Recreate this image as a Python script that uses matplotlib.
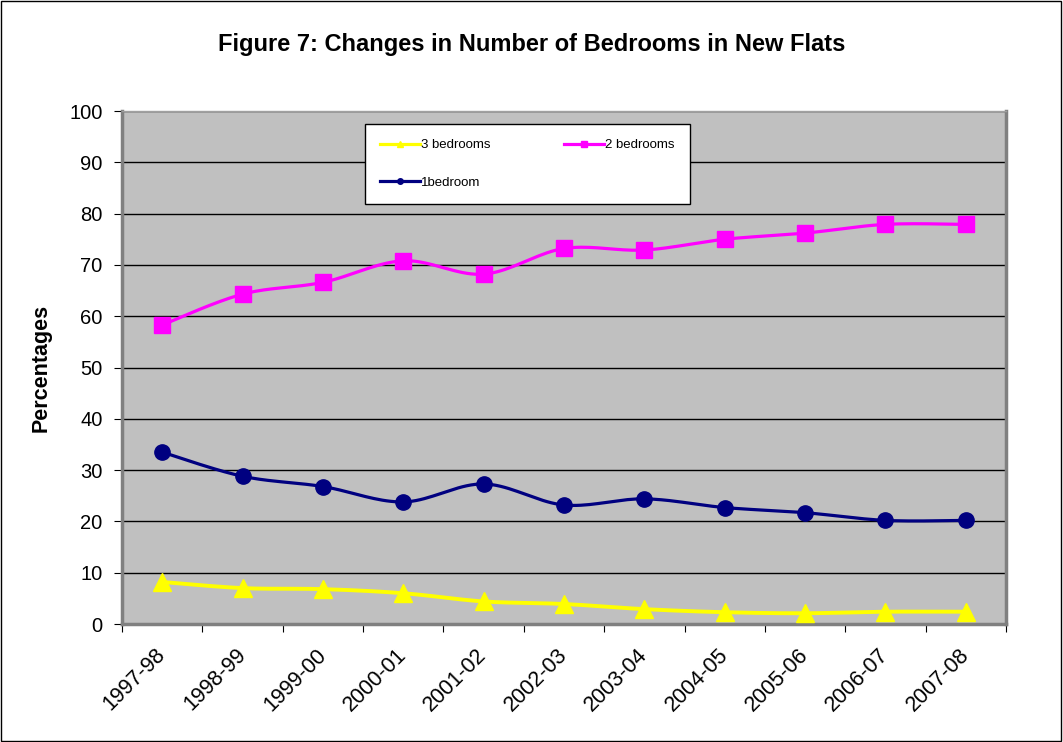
import numpy as np
import matplotlib
matplotlib.use("Agg")
import matplotlib.pyplot as plt
from matplotlib.patches import Rectangle

plt.rcParams['font.family'] = ['Liberation Sans', 'DejaVu Sans']

# data
years = ['1997-98', '1998-99', '1999-00', '2000-01', '2001-02', '2002-03',
         '2003-04', '2004-05', '2005-06', '2006-07', '2007-08']
three_bed = [8.2, 7.0, 6.8, 6.0, 4.4, 3.9, 2.9, 2.3, 2.1, 2.4, 2.4]
two_bed = [58.3, 64.3, 66.6, 70.8, 68.2, 73.2, 72.9, 75.0, 76.2, 77.9, 77.9]
one_bed = [33.5, 28.8, 26.8, 23.8, 27.3, 23.2, 24.4, 22.7, 21.7, 20.2, 20.2]


def smooth(xs, ys, n=20):
    # Excel-like smoothed line (cubic bezier through the points)
    xs = np.asarray(xs, float)
    ys = np.asarray(ys, float)
    px = np.concatenate([[xs[0]], xs, [xs[-1]]])
    py = np.concatenate([[ys[0]], ys, [ys[-1]]])
    outx, outy = [], []
    t = np.linspace(0, 1, n)
    for i in range(1, len(px) - 2):
        p0 = np.array([px[i], py[i]])
        p3 = np.array([px[i + 1], py[i + 1]])
        p1 = p0 + (np.array([px[i + 1], py[i + 1]]) - np.array([px[i - 1], py[i - 1]])) / 6
        p2 = p3 - (np.array([px[i + 2], py[i + 2]]) - np.array([px[i], py[i]])) / 6
        b = ((1 - t) ** 3)[:, None] * p0 + (3 * (1 - t) ** 2 * t)[:, None] * p1 \
            + (3 * (1 - t) * t ** 2)[:, None] * p2 + (t ** 3)[:, None] * p3
        outx.extend(b[:, 0])
        outy.extend(b[:, 1])
    return outx, outy


fig = plt.figure(figsize=(10.63, 7.42), dpi=100)
ax = fig.add_axes([0.1148, 0.159, 0.8316, 0.6914])
ax.set_facecolor('#C0C0C0')

x = np.arange(len(years))
series = [
    (three_bed, '#FFFF00', '^', 13, 2.8, '3 bedrooms'),
    (one_bed, '#000080', 'o', 11, 2.3, '1bedroom'),
    (two_bed, '#FF00FF', 's', 11, 2.3, '2 bedrooms'),
]
handles = []
for vals, col, mk, ms, lw, lab in series:
    sx, sy = smooth(x, vals)
    ax.plot(sx, sy, color=col, lw=lw, zorder=3)
    ax.plot(x, vals, linestyle='none', marker=mk, markersize=ms, color=col, zorder=4)
    h, = ax.plot([], [], color=col, lw=2.3, marker=mk, markersize=4, label=lab)
    handles.append(h)

ax.set_ylim(0, 100)
ax.set_xlim(-0.5, len(years) - 0.5)
ax.set_yticks(np.arange(0, 101, 10))
ax.yaxis.grid(True, color='black', lw=1)
ax.set_axisbelow(True)

ax.set_xticks(np.arange(-0.5, len(years), 1))
ax.set_xticklabels([])
ax.set_xticks(x, minor=True)
ax.set_xticklabels(years, minor=True, rotation=45, ha='right', va='center',
                   rotation_mode='anchor', fontsize=15.5)
ax.tick_params(axis='x', which='minor', length=0, pad=20)
ax.tick_params(axis='x', which='major', length=6, direction='out', color='black')
ax.tick_params(axis='y', length=6, direction='out', labelsize=14.5, pad=8)

for s in ['left', 'bottom', 'right']:
    ax.spines[s].set_color('#808080')
    ax.spines[s].set_linewidth(2.5)
ax.spines['top'].set_color('#A0A0A0')
ax.spines['top'].set_linewidth(1)

ax.set_ylabel('Percentages', fontsize=15.5, fontweight='bold', labelpad=13)

fig.text(0.5, 0.94, 'Figure 7: Changes in Number of Bedrooms in New Flats',
         ha='center', va='center', fontsize=17, fontweight='bold')

leg = ax.legend(handles=handles, ncol=2, loc='upper left',
                bbox_to_anchor=(0.275, 0.975, 0.367, 0.0), mode='expand',
                borderaxespad=0, fontsize=9.5, frameon=True, fancybox=False,
                edgecolor='black', framealpha=1, handlelength=3,
                handletextpad=0.1, labelspacing=1.9, borderpad=1.15,
                columnspacing=1.0)
leg.get_frame().set_linewidth(1)

fig.patches.append(Rectangle((0.0005, 0.0007), 0.998, 0.998, transform=fig.transFigure,
                             fill=False, edgecolor='black', lw=1))

fig.savefig('out.png', dpi=100)
